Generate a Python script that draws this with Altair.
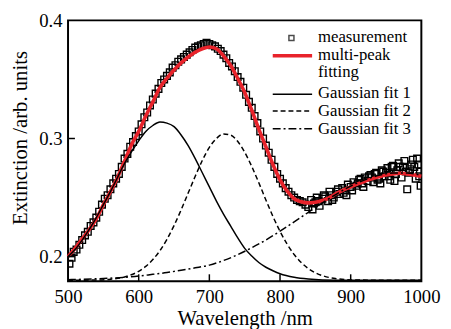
import altair as alt
import pandas as pd

# ---------------- data ----------------
meas_nm = [502, 505, 508, 512, 516, 520, 524, 528, 532, 536, 540, 544, 548, 552, 556, 560,
           564, 568, 572, 576, 580, 584, 588, 592, 596, 600, 604, 608, 612, 616, 620, 624,
           628, 632, 636, 640, 644, 648, 652, 656, 660, 664, 668, 672, 676, 680, 684, 688,
           692, 696, 700, 704, 708, 712, 716, 720, 724, 728, 732, 736, 740, 744, 748, 752,
           756, 760, 764, 768, 772, 776, 780, 784, 788, 792, 796, 800, 804, 808, 812, 816,
           820, 824, 828, 832, 836, 840, 844, 846, 848, 850, 852, 856, 860, 864, 868, 870,
           872, 876, 880, 884, 888, 890, 892, 896, 900, 904, 908, 910, 912, 916, 920, 924,
           928, 930, 932, 936, 940, 942, 944, 948, 950, 952, 956, 960, 962, 964, 968, 970,
           972, 976, 978, 980, 984, 988, 992, 994, 996, 998, 999,
           854, 862, 874, 882, 894, 902, 914, 918, 926, 934, 938, 946, 954, 958, 966, 974,
           982, 986, 990, 997]
meas_val = [0.194, 0.199, 0.204, 0.206, 0.210, 0.214, 0.218, 0.221, 0.226, 0.229, 0.233, 0.238,
            0.244, 0.249, 0.252, 0.257, 0.262, 0.266, 0.270, 0.276, 0.283, 0.287, 0.293, 0.297,
            0.302, 0.306, 0.312, 0.318, 0.322, 0.328, 0.333, 0.338, 0.342, 0.347, 0.350, 0.353,
            0.356, 0.360, 0.362, 0.365, 0.367, 0.369, 0.371, 0.373, 0.375, 0.377, 0.378, 0.379,
            0.380, 0.381, 0.380, 0.379, 0.378, 0.376, 0.374, 0.371, 0.368, 0.364, 0.361, 0.357,
            0.352, 0.348, 0.343, 0.337, 0.331, 0.326, 0.319, 0.313, 0.306, 0.300, 0.294, 0.288,
            0.282, 0.276, 0.270, 0.266, 0.262, 0.258, 0.255, 0.252, 0.250, 0.248, 0.247, 0.246,
            0.244, 0.242, 0.248, 0.240, 0.245, 0.246, 0.250, 0.243, 0.249, 0.251, 0.247, 0.255,
            0.252, 0.250, 0.255, 0.253, 0.258, 0.254, 0.256, 0.261, 0.259, 0.263, 0.260, 0.262,
            0.265, 0.262, 0.267, 0.264, 0.269, 0.267, 0.263, 0.271, 0.266, 0.262, 0.273, 0.268,
            0.271, 0.275, 0.265, 0.277, 0.264, 0.270, 0.279, 0.276, 0.267, 0.281, 0.272, 0.257,
            0.274, 0.282, 0.266, 0.283, 0.278, 0.272, 0.260,
            0.247, 0.252, 0.248, 0.257, 0.252, 0.256, 0.266, 0.259, 0.268, 0.270, 0.265, 0.272,
            0.268, 0.276, 0.273, 0.276, 0.271, 0.278, 0.276, 0.268]

fit_nm = [500, 510, 520, 530, 540, 550, 560, 570, 580, 590, 600, 610, 620, 630, 640, 650, 660,
          670, 680, 690, 700, 710, 720, 730, 740, 750, 760, 770, 780, 790, 800, 810, 820, 830,
          840, 850, 860, 870, 880, 890, 900, 910, 920, 930, 940, 950, 960, 970, 980, 990, 1000]
fit_val = [0.200, 0.207, 0.215, 0.223, 0.232, 0.244, 0.255, 0.267, 0.281, 0.295, 0.306, 0.319,
           0.331, 0.343, 0.351, 0.358, 0.364, 0.369, 0.373, 0.376, 0.3775, 0.376, 0.370, 0.362,
           0.351, 0.339, 0.324, 0.308, 0.293, 0.278, 0.265, 0.2555, 0.249, 0.2465, 0.2455,
           0.246, 0.2475, 0.250, 0.2535, 0.2565, 0.259, 0.2615, 0.2638, 0.2658, 0.2675, 0.269,
           0.270, 0.2705, 0.270, 0.269, 0.268]

g1_nm = [500, 510, 520, 530, 540, 550, 560, 570, 580, 590, 600, 610, 620, 630, 640, 650, 660,
         670, 680, 690, 700, 710, 720, 730, 740, 750, 760, 770, 780, 790, 800, 820, 840, 860,
         900, 1000]
g1_val = [0.200, 0.206, 0.214, 0.223, 0.233, 0.244, 0.255, 0.267, 0.279, 0.289, 0.298, 0.306,
          0.311, 0.314, 0.313, 0.310, 0.303, 0.294, 0.283, 0.271, 0.259, 0.247, 0.236, 0.226,
          0.216, 0.207, 0.2005, 0.195, 0.191, 0.188, 0.1855, 0.1825, 0.181, 0.1803, 0.180, 0.180]

g2_nm = [500, 540, 560, 580, 600, 610, 620, 630, 640, 650, 660, 670, 680, 690, 700, 710, 720,
         730, 740, 750, 760, 770, 780, 790, 800, 810, 820, 830, 840, 850, 860, 880, 900, 950, 1000]
g2_val = [0.180, 0.1802, 0.1809, 0.1828, 0.1876, 0.1917, 0.1975, 0.205, 0.2147, 0.2263, 0.2395,
          0.2538, 0.268, 0.2814, 0.2925, 0.300, 0.3038, 0.3029, 0.2976, 0.2884, 0.2763, 0.2625,
          0.248, 0.234, 0.2214, 0.2106, 0.2018, 0.195, 0.1899, 0.1863, 0.1839, 0.1813, 0.1803,
          0.180, 0.180]

g3_nm = [500, 550, 600, 620, 640, 660, 680, 700, 720, 740, 760, 780, 800, 820, 840, 860, 880,
         900, 920, 940, 960, 980, 1000]
g3_val = [0.1805, 0.1815, 0.1835, 0.185, 0.1865, 0.1885, 0.1905, 0.1928, 0.1967, 0.2016, 0.2075,
          0.2141, 0.2215, 0.2294, 0.2375, 0.2455, 0.253, 0.2597, 0.265, 0.2688, 0.2707, 0.2707,
          0.2688]

x_ticks = [500, 600, 700, 800, 900, 1000]
y_ticks = [0.2, 0.3, 0.4]
x_inner_ticks = [600, 700, 800, 900]
y_inner_ticks = [0.2, 0.3]

legend_labels = ["measurement", "multi-peak", "fitting", "Gaussian fit 1", "Gaussian fit 2", "Gaussian fit 3"]

# ---------------- chart ----------------
FONT = "'Liberation Serif', 'Times New Roman', 'DejaVu Serif', serif"
RED = "#e8232b"

xscale = alt.Scale(domain=[500, 1000], nice=False, zero=False)
yscale = alt.Scale(domain=[0.1792, 0.4], nice=False, zero=False)

xaxis = alt.Axis(values=x_ticks, format="d", title="Wavelength /nm", labelFlush=False,
                 labelPadding=7, titleY=44, titleBaseline="alphabetic")
yaxis = alt.Axis(values=y_ticks, format=".1f", title="Extinction /arb. units",
                 labelPadding=6, titleX=-42, titleY=119, titleAngle=270,
                 titleBaseline="alphabetic", titleAlign="center")

meas_df = pd.DataFrame({"nm": meas_nm, "v": meas_val})
fit_df = pd.DataFrame({"nm": fit_nm, "v": fit_val})
g1_df = pd.DataFrame({"nm": g1_nm, "v": g1_val})
g2_df = pd.DataFrame({"nm": g2_nm, "v": g2_val})
g3_df = pd.DataFrame({"nm": g3_nm, "v": g3_val})

pts = alt.Chart(meas_df).mark_point(shape="square", filled=False, color="black", size=46,
                                    strokeWidth=1.4, opacity=1, clip=True).encode(
    x=alt.X("nm:Q", scale=xscale, axis=xaxis),
    y=alt.Y("v:Q", scale=yscale, axis=yaxis))

fit = alt.Chart(fit_df).mark_line(color=RED, strokeWidth=3.6, interpolate="monotone").encode(
    x="nm:Q", y="v:Q")

g1 = alt.Chart(g1_df).mark_line(color="black", strokeWidth=1.5, interpolate="monotone").encode(
    x="nm:Q", y="v:Q")
g2 = alt.Chart(g2_df).mark_line(color="black", strokeWidth=1.5, strokeDash=[5, 3],
                                interpolate="monotone").encode(x="nm:Q", y="v:Q")
g3 = alt.Chart(g3_df).mark_line(color="black", strokeWidth=1.5, strokeDash=[8, 3, 2, 3],
                                interpolate="monotone").encode(x="nm:Q", y="v:Q")

xt = alt.Chart(pd.DataFrame({"t": x_inner_ticks})).mark_rule(color="black", strokeWidth=1.5).encode(
    x="t:Q", y=alt.value(265), y2=alt.value(258))
yt = alt.Chart(pd.DataFrame({"t": y_inner_ticks})).mark_rule(color="black", strokeWidth=1.5).encode(
    y="t:Q", x=alt.value(0), x2=alt.value(7))

# manual legend (top right, inside the frame)
one = pd.DataFrame({"k": [0]})
LX0, LX1, TX = 208, 248, 254
leg_sq = alt.Chart(one).mark_point(shape="square", filled=False, color="black", size=26,
                                   strokeWidth=1.5).encode(x=alt.value(227), y=alt.value(18))
leg_red = alt.Chart(one).mark_rule(color=RED, strokeWidth=3.6).encode(
    x=alt.value(LX0), x2=alt.value(LX1), y=alt.value(36))
leg_g1 = alt.Chart(one).mark_rule(color="black", strokeWidth=1.5).encode(
    x=alt.value(LX0), x2=alt.value(LX1), y=alt.value(75))
leg_g2 = alt.Chart(one).mark_rule(color="black", strokeWidth=1.5, strokeDash=[5, 3]).encode(
    x=alt.value(LX0), x2=alt.value(LX1), y=alt.value(92))
leg_g3 = alt.Chart(one).mark_rule(color="black", strokeWidth=1.5, strokeDash=[8, 3, 2, 3]).encode(
    x=alt.value(LX0), x2=alt.value(LX1), y=alt.value(110))

text_y = [22, 40, 58, 79, 97, 115]
texts = [alt.Chart(one).mark_text(align="left", baseline="alphabetic", font=FONT, fontSize=17,
                                  color="black").encode(
    x=alt.value(TX), y=alt.value(ty), text=alt.value(lab))
    for lab, ty in zip(legend_labels, text_y)]

chart = alt.layer(pts, fit, g1, g2, g3, xt, yt, leg_sq, leg_red, leg_g1, leg_g2, leg_g3, *texts).properties(
    width=359, height=265,
    padding={"left": 61, "top": 10, "right": 22, "bottom": 46},
    autosize=alt.AutoSizeParams(type="none"),
).configure_view(stroke="black", strokeWidth=2).configure_axis(
    domain=False, ticks=False, grid=False,
    labelFont=FONT, labelFontSize=19, labelColor="black",
    titleFont=FONT, titleFontSize=21, titleColor="black", titleFontWeight="normal",
).configure_axisX(titleFontSize=21)

chart.save("out.html", embed_options={"renderer": "svg", "actions": False})
